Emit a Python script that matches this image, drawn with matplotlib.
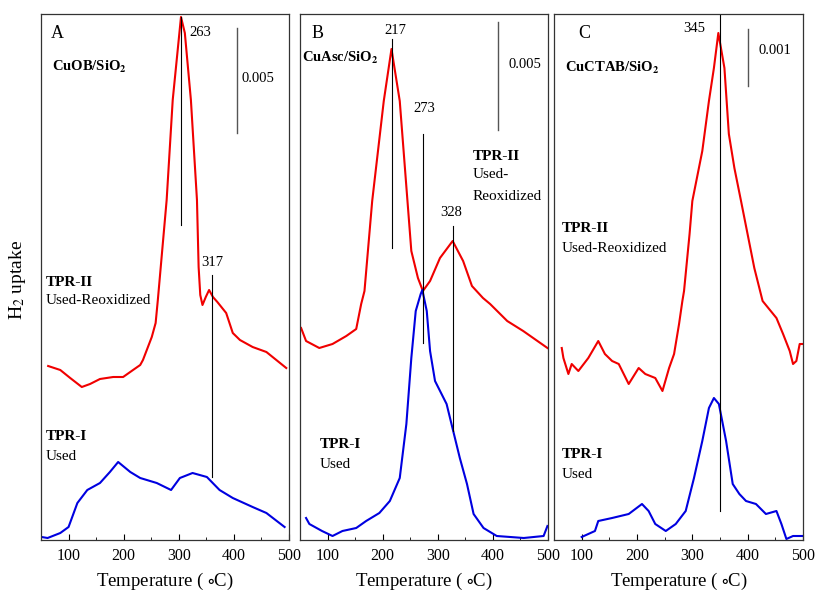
import numpy as np
import matplotlib.pyplot as plt
from matplotlib.ticker import MultipleLocator

plt.rcParams['font.family'] = 'Liberation Serif'
plt.rcParams['mathtext.fontset'] = 'stix'

# Panel A  (CuOB/SiO2), signal in arbitrary units
a_red_t = [63, 85, 103, 124, 139, 157, 181, 199, 217, 230, 235, 251, 258, 262, 278, 289,
           304, 311, 322, 333, 336, 339, 343, 349, 355, 362, 370, 386, 398, 411, 434, 459, 477, 495]
a_red_h = [174, 170, 162, 153, 156, 161, 163, 163, 170, 175, 180, 203, 217, 240, 340, 440,
           523, 507, 440, 340, 273, 245, 235, 243, 250, 243, 238, 227, 207, 200, 193, 188, 180, 172]
a_blue_t = [51, 62, 85, 100, 116, 134, 157, 175, 190, 212, 230, 260, 286, 302, 325, 351,
            374, 398, 434, 459, 492]
a_blue_h = [3, 2, 7, 13, 37, 50, 57, 68, 78, 68, 62, 57, 50, 62, 67, 63,
            50, 42, 33, 27, 13]

# Panel B  (CuAsc/SiO2)
b_red_t = [52, 61, 85, 109, 134, 152, 161, 167, 181, 202, 216, 231, 245, 252, 264, 273,
           286, 304, 327, 346, 362, 382, 395, 426, 455, 499]
b_red_h = [212, 199, 192, 196, 204, 211, 236, 249, 339, 439, 491, 439, 339, 289, 262, 249,
           259, 282, 299, 279, 254, 242, 236, 219, 209, 192]
b_blue_t = [61, 67, 90, 109, 127, 152, 170, 194, 213, 231, 243, 252, 260, 269, 272, 280,
            286, 295, 316, 328, 340, 353, 365, 383, 407, 456, 492, 499]
b_blue_h = [22, 16, 9, 4, 9, 12, 19, 27, 39, 62, 116, 182, 229, 246, 250, 229,
            189, 159, 136, 109, 82, 56, 26, 12, 4, 2, 4, 14]

# Panel C  (CuCTAB/SiO2)
c_red_t = [64, 67, 76, 82, 94, 112, 130, 142, 155, 167, 185, 203, 215, 233, 246, 258, 267,
           276, 282, 285, 295, 300, 318, 330, 339, 347, 358, 366, 376, 388, 412, 427, 452,
           464, 476, 482, 488, 494, 500]
c_red_h = [192, 182, 166, 176, 169, 182, 199, 186, 179, 176, 156, 172, 166, 162, 149, 172, 186,
           216, 239, 249, 306, 339, 389, 439, 472, 507, 472, 406, 372, 339, 272, 239, 222,
           206, 189, 176, 179, 196, 196]
c_blue_t = [100, 124, 130, 155, 185, 209, 221, 233, 252, 270, 288, 303, 318, 330, 339, 348,
            361, 373, 385, 397, 415, 433, 452, 461, 470, 482, 500]
c_blue_h = [3, 9, 19, 22, 26, 36, 29, 16, 9, 16, 29, 62, 99, 132, 142, 136,
            99, 56, 46, 39, 36, 26, 29, 16, 1, 4, 4]

panels = [
    dict(pos=[41, 248], red=(a_red_t, a_red_h), blue=(a_blue_t, a_blue_h), letter='A',
         name=r'CuOB/SiO$_\mathbf{2}$', letter_xy=(67, 507), name_xy=(70, 473),
         peaks=[('263', 304, 523, 315, 320, 508, 'left'), ('317', 361, 265, 63, 360, 278, 'center')],
         bar=(405, 512, 407, '0.005', 414, 461),
         tpr2=(58, 258, ['Used-Reoxidized']), tpr1=(58, 103)),
    dict(pos=[300, 248], red=(b_red_t, b_red_h), blue=(b_blue_t, b_blue_h), letter='B',
         name=r'CuAsc/SiO$_\mathbf{2}$', letter_xy=(70, 506), name_xy=(54, 482),
         peaks=[('217', 217, 501, 292, 223, 509, 'center'), ('273', 273, 406, 197, 275, 432, 'center'),
                ('328', 328, 314, 109, 325, 327, 'center')],
         bar=(410, 518, 410, '0.005', 428, 476),
         tpr2=(363, 384, ['Used-', 'Reoxidized']), tpr1=(85, 96)),
    dict(pos=[554, 249], red=(c_red_t, c_red_h), blue=(c_blue_t, c_blue_h), letter='C',
         name=r'CuCTAB/SiO$_\mathbf{2}$', letter_xy=(93, 506), name_xy=(70, 472),
         peaks=[('345', 350, 525, 29, 304, 511, 'center')],
         bar=(401, 511, 454, '0.001', 420, 489),
         tpr2=(64, 311, ['Used-Reoxidized']), tpr1=(64, 86)),
]

W, H = 816, 591
fig = plt.figure(figsize=(W / 100, H / 100), dpi=100)

for p in panels:
    left, width = p['pos']
    ax = fig.add_axes([left / W, 1 - 540 / H, width / W, 526 / H])
    ax.plot(*p['red'], color='#f00000', lw=1.5)
    ax.plot(*p['blue'], color='#0000e0', lw=1.5)
    for lab, x, y0, y1, tx, ty, ha in p['peaks']:
        ax.plot([x, x], [y0, y1], color='black', lw=0.8)
        ax.text(tx, ty, lab, fontsize=10.5, ha=ha, va='center')
    bx, by0, by1, blab, btx, bty = p['bar']
    ax.plot([bx, bx], [by0, by1], color='#555555', lw=1.0)
    ax.text(btx, bty, blab, fontsize=10.5, va='center')
    ax.text(*p['letter_xy'], p['letter'], fontsize=13, va='center')
    ax.text(*p['name_xy'], p['name'], fontsize=10.5, fontweight='bold', va='center')
    tx, ty, lines = p['tpr2']
    ax.text(tx, ty, 'TPR-II', fontsize=11, fontweight='bold', va='center')
    for i, s in enumerate(lines):
        ax.text(tx, ty - 19 - 21 * i, s, fontsize=11, va='center')
    tx, ty = p['tpr1']
    ax.text(tx, ty, 'TPR-I', fontsize=11, fontweight='bold', va='center')
    ax.text(tx, ty - 20, 'Used', fontsize=11, va='center')

    ax.set_xlim(50, 500)
    ax.set_ylim(0, 526)
    ax.set_yticks([])
    ax.xaxis.set_major_locator(MultipleLocator(100))
    ax.xaxis.set_minor_locator(MultipleLocator(50))
    ax.tick_params(axis='x', which='both', direction='in', labelsize=11.5, pad=6)
    ax.tick_params(axis='x', which='major', length=4)
    ax.tick_params(axis='x', which='minor', length=2.5)
    for sp in ax.spines.values():
        sp.set_color('#333333')
        sp.set_linewidth(0.9)
    ax.set_xlabel(r'Temperature ( ${\circ}$C)', fontsize=13.5, labelpad=5)

fig.text(18 / W, 1 - 280 / H, r'H$_2$ uptake', rotation=90, fontsize=14,
         ha='center', va='center')

fig.savefig('out.png', dpi=100)
